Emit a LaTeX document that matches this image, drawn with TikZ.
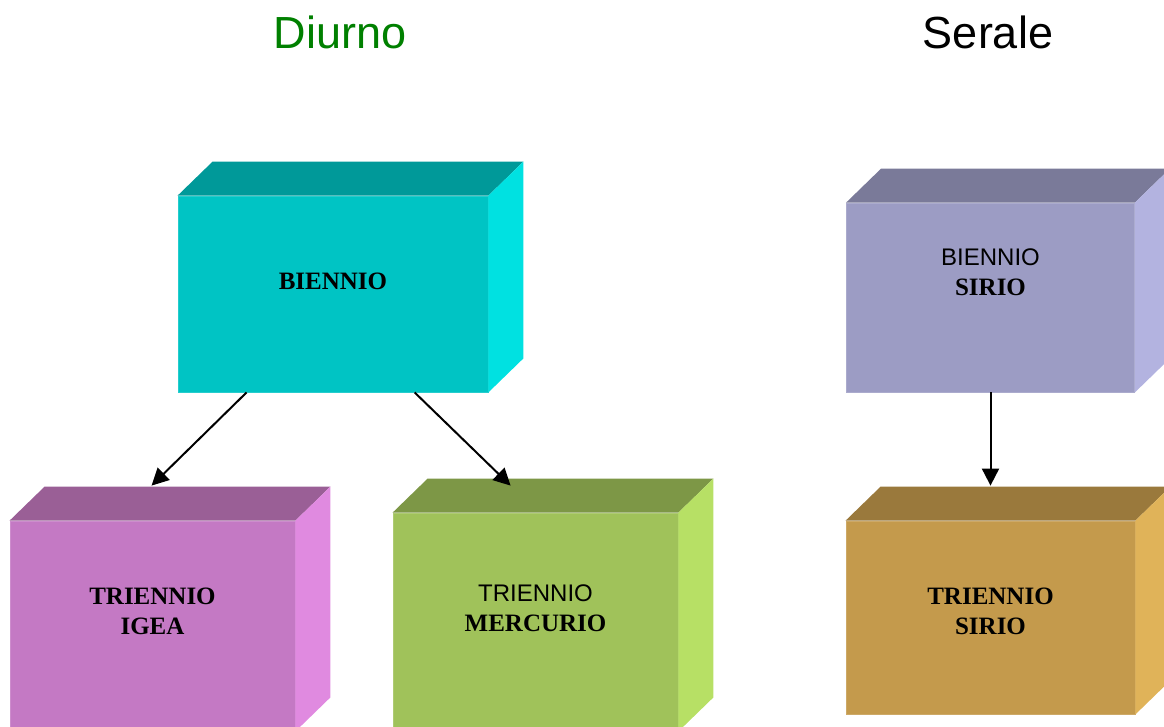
\documentclass[tikz,border=0pt]{standalone}
\usepackage{fontspec}
\setmainfont{Liberation Serif}
\newfontfamily\arialf{Liberation Sans}
\usetikzlibrary{calc,arrows.meta}
\definecolor{cyanF}{HTML}{00C4C4}\definecolor{cyanT}{HTML}{009999}\definecolor{cyanS}{HTML}{00E1E1}
\definecolor{pinkF}{HTML}{C479C4}\definecolor{pinkT}{HTML}{9A5F96}\definecolor{pinkS}{HTML}{E08AE0}
\definecolor{grnF}{HTML}{A0C25A}\definecolor{grnT}{HTML}{7D9746}\definecolor{grnS}{HTML}{B7E065}
\definecolor{lavF}{HTML}{9C9CC4}\definecolor{lavT}{HTML}{7A7A99}\definecolor{lavS}{HTML}{B3B3E0}
\definecolor{gldF}{HTML}{C49A4C}\definecolor{gldT}{HTML}{9A793C}\definecolor{gldS}{HTML}{E0B359}
\definecolor{titlegreen}{HTML}{008000}
\tikzset{
  face/.style={rectangle, inner sep=0pt, draw=#1!85!white, fill=#1, line width=0.8pt},
  boxtext/.style={font=\fontsize{25}{30}\selectfont, align=center, text=black},
  title/.style={font=\arialf\fontsize{45}{50}\selectfont},
  arr/.style={line width=2pt, -{Triangle[length=17pt,width=17pt]}},
}
\newcommand{\cubesides}[3]{%
  \fill[#2] (#1.north west) -- ($(#1.north west)+(35,-34)$) -- ($(#1.north east)+(35,-34)$) -- (#1.north east) -- cycle;
  \fill[#3] (#1.north east) -- ($(#1.north east)+(35,-34)$) -- ($(#1.south east)+(35,-34)$) -- (#1.south east) -- cycle;
}
\begin{document}
\begin{tikzpicture}[x=1pt,y=-1pt]
\useasboundingbox (0,0) rectangle (1164,726);
\clip (0,0) rectangle (1164,726);

\node[title, text=titlegreen] (tD) at (340,32) {Diurno};
\node[title, text=black] (tS) at (988,32) {Serale};

% BIENNIO
\node[face=cyanF, minimum width=310pt, minimum height=196pt,
  label={[boxtext, yshift=13pt]center:\textbf{BIENNIO}}] (b1) at (333,294) {};
\cubesides{b1}{cyanT}{cyanS}

% TRIENNIO IGEA
\node[face=pinkF, minimum width=285pt, minimum height=210pt,
  label={[boxtext, yshift=15pt]center:\textbf{TRIENNIO}\\\textbf{IGEA}}] (t1) at (152.5,626) {};
\cubesides{t1}{pinkT}{pinkS}

% TRIENNIO MERCURIO
\node[face=grnF, minimum width=285pt, minimum height=218pt,
  label={[boxtext, yshift=14pt]center:{\arialf\fontsize{24}{30}\selectfont TRIENNIO}\\\textbf{MERCURIO}}] (t2) at (535.5,622) {};
\cubesides{t2}{grnT}{grnS}

% BIENNIO SIRIO
\node[face=lavF, minimum width=288pt, minimum height=189pt,
  label={[boxtext, yshift=25pt]center:{\arialf\fontsize{24}{30}\selectfont BIENNIO}\\\textbf{SIRIO}}] (s1) at (990.5,297.5) {};
\cubesides{s1}{lavT}{lavS}

% TRIENNIO SIRIO
\node[face=gldF, minimum width=289pt, minimum height=193pt,
  label={[boxtext, yshift=6pt]center:\textbf{TRIENNIO}\\\textbf{SIRIO}}] (s2) at (990.5,617.5) {};
\cubesides{s2}{gldT}{gldS}

% connectors
\draw[arr] ([xshift=69pt]b1.south west) -- ([xshift=142pt,yshift=35pt]t1.north west);
\draw[arr] ([xshift=237pt]b1.south west) -- ([xshift=118pt,yshift=27pt]t2.north west);
\draw[arr] (s1.south) -- ([yshift=35pt]s2.north);
\end{tikzpicture}
\end{document}
